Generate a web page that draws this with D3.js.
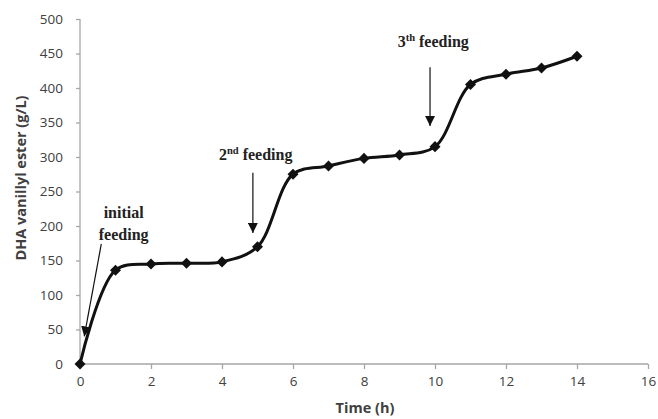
<!DOCTYPE html>
<html><head><meta charset="utf-8">
<script src="https://cdn.jsdelivr.net/npm/d3@7"></script>
<style>body{margin:0;background:#fff}svg{display:block}</style>
</head><body>
<script>
const times = [0,1,2,3,4,5,6,7,8,9,10,11,12,13,14];
const ester = [0,136,145,146,148,170,275,287,298,303,315,405,420,429,446];
const xTicks = [0,2,4,6,8,10,12,14,16];
const yTicks = [0,50,100,150,200,250,300,350,400,450,500];
const notes = [
  {lines:["initial","feeding"], tx:1.23, ty:212, from:[0.6,174], to:[0.12,40]},
  {lines:["2nd feeding"], tx:4.95, ty:296, from:[4.87,277], to:[4.87,190]},
  {lines:["3th feeding"], tx:9.95, ty:459, from:[9.86,430], to:[9.86,345]}
];

const W=658,H=419;
const svg=d3.select("body").append("svg").attr("width",W).attr("height",H);
const x=d3.scaleLinear().domain([0,16]).range([80,648]);
const y=d3.scaleLinear().domain([0,500]).range([364,19]);
const axisCol="#a6a6a6", txtCol="#404040";

const xa=svg.append("g").attr("transform",`translate(0,${y(0)})`)
  .call(d3.axisBottom(x).tickValues(xTicks).tickSize(5).tickPadding(7));
const ya=svg.append("g").attr("transform",`translate(${x(0)},0)`)
  .call(d3.axisLeft(y).tickValues(yTicks).tickSize(4).tickPadding(13));
[xa,ya].forEach(g=>{
  g.selectAll("path,line").attr("stroke",axisCol).attr("stroke-width",1.3);
  g.selectAll("text").attr("fill",txtCol).style("font-family","Open Sans, sans-serif").style("font-size","13.5px");
});
xa.select(".domain").attr("d",`M${x(0)},0H${x(16)}`);
ya.select(".domain").attr("d",`M0,${y(0)}V${y(500)}`);

svg.append("text").attr("x",365).attr("y",413).attr("text-anchor","middle")
  .attr("fill",txtCol).style("font-family","Open Sans, sans-serif").style("font-weight","bold").style("font-size","14.5px")
  .text("Time (h)");
svg.append("text").attr("transform",`translate(26,178) rotate(-90)`).attr("text-anchor","middle")
  .attr("fill",txtCol).style("font-family","Open Sans, sans-serif").style("font-weight","bold").style("font-size","14.5px")
  .text("DHA vanillyl ester (g/L)");

const pts=times.map((t,i)=>[t,ester[i]]);
const line=d3.line().x(d=>x(d[0])).y(d=>y(d[1])).curve(d3.curveCatmullRom.alpha(0.5));
svg.append("path").attr("d",line(pts)).attr("fill","none").attr("stroke","#111").attr("stroke-width",3);

svg.selectAll(".m").data(pts).enter().append("path")
  .attr("d",d3.symbol(d3.symbolDiamond2,78))
  .attr("transform",d=>`translate(${x(d[0])},${y(d[1])})`).attr("fill","#111");

const defs=svg.append("defs");
defs.append("marker").attr("id","ah").attr("viewBox","0 0 10 10").attr("refX",10).attr("refY",5)
  .attr("markerWidth",10).attr("markerHeight",10).attr("markerUnits","userSpaceOnUse").attr("orient","auto")
  .append("path").attr("d","M0,0L10,5L0,10z").attr("fill","#111");

notes.forEach(n=>{
  const t=svg.append("text").attr("text-anchor","middle").attr("fill","#222")
    .style("font-family","Liberation Serif, Times New Roman, serif").style("font-weight","bold").style("font-size","16px");
  n.lines.forEach((l,i)=>{
    const ts=t.append("tspan").attr("x",x(n.tx)).attr("y",y(n.ty)+i*22);
    const m=l.match(/^(\d)(nd|th)(.*)$/);
    if(m){
      ts.text(m[1]);
      ts.append("tspan").attr("dy",-6).style("font-size","10.5px").text(m[2]);
      ts.append("tspan").attr("dy",6).text(m[3]);
    } else ts.text(l);
  });
  svg.append("line").attr("x1",x(n.from[0])).attr("y1",y(n.from[1])).attr("x2",x(n.to[0])).attr("y2",y(n.to[1]))
    .attr("stroke","#111").attr("stroke-width",1.2).attr("marker-end","url(#ah)");
});
</script>
</body></html>
